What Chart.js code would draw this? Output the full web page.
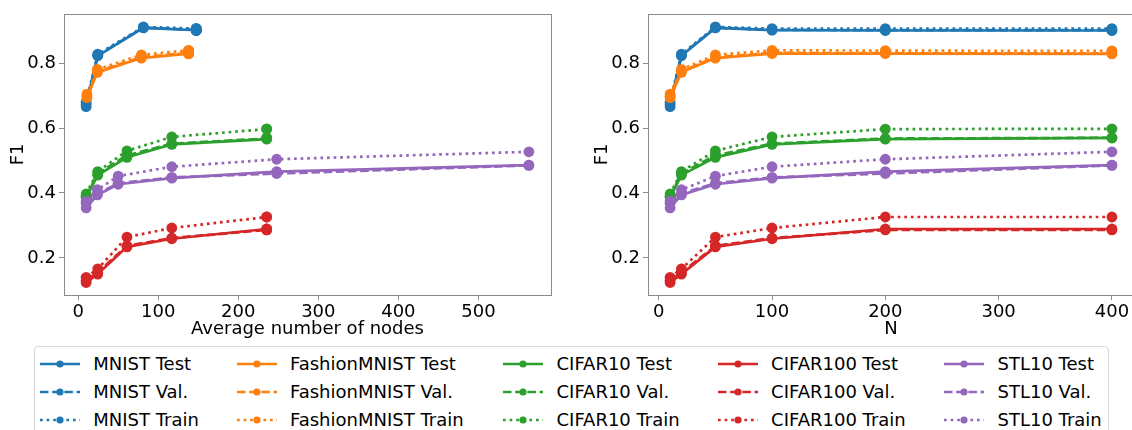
<!DOCTYPE html>
<html>
<head>
<meta charset="utf-8">
<script src="https://cdn.jsdelivr.net/npm/chart.js@4.4.1/dist/chart.umd.min.js"></script>
<style>
  html, body { margin:0; padding:0; background:#fff; }
  body { width:1132px; height:430px; overflow:hidden; position:relative; font-family:"DejaVu Sans", sans-serif; }
  .wrap { position:absolute; top:0; }
  #legend { position:absolute; left:34px; top:346px; width:1075px; height:110px; border:1px solid #d6d6d6; border-radius:4px; box-sizing:border-box; }
  .item { position:absolute; height:20px; display:flex; align-items:center; font-size:18px; color:#000; white-space:nowrap; }
  .item svg { margin-right:13.5px; }
</style>
</head>
<body>
<div class="wrap" style="left:0px;width:566px;height:345px"><canvas id="cL" width="566" height="345"></canvas></div>
<div class="wrap" style="left:566px;width:580px;height:345px"><canvas id="cR" width="580" height="345"></canvas></div>
<div id="legend"></div>
<script>
// ---- data ----
const datasetNames = ["MNIST", "FashionMNIST", "CIFAR10", "CIFAR100", "STL10"];
const splitNames = ["Test", "Val.", "Train"];
const colors = ["#1f77b4", "#ff7f0e", "#2ca02c", "#d62728", "#9467bd"];

const N = [10, 20, 50, 100, 200, 400];

const nodesMNIST    = [10, 24.5, 81.5, 147.5, 147.5, 147.5];
const nodesFashion  = [11, 24, 79, 138, 138, 138];
const nodesCIFAR10  = [10, 24.5, 61, 117, 235.5, 235.5];
const nodesCIFAR100 = [10, 24.5, 61, 117, 235.5, 235.5];
const nodesSTL10    = [10, 24, 50, 117, 248, 563];

const mnistTest     = [0.666, 0.823, 0.909, 0.902, 0.901, 0.901];
const mnistVal      = [0.673, 0.825, 0.910, 0.903, 0.902, 0.902];
const mnistTrain    = [0.680, 0.828, 0.912, 0.907, 0.907, 0.907];
const fashionTest   = [0.694, 0.772, 0.816, 0.830, 0.830, 0.829];
const fashionVal    = [0.699, 0.775, 0.819, 0.832, 0.831, 0.830];
const fashionTrain  = [0.705, 0.781, 0.826, 0.840, 0.839, 0.838];
const cifar10Test   = [0.386, 0.455, 0.510, 0.550, 0.566, 0.570];
const cifar10Val    = [0.390, 0.460, 0.516, 0.552, 0.568, 0.570];
const cifar10Train  = [0.397, 0.466, 0.530, 0.573, 0.597, 0.598];
const cifar100Test  = [0.124, 0.150, 0.234, 0.259, 0.289, 0.289];
const cifar100Val   = [0.130, 0.155, 0.237, 0.261, 0.286, 0.286];
const cifar100Train = [0.140, 0.166, 0.264, 0.292, 0.326, 0.326];
const stl10Test     = [0.354, 0.394, 0.427, 0.446, 0.466, 0.486];
const stl10Val      = [0.368, 0.398, 0.430, 0.448, 0.460, 0.485];
const stl10Train    = [0.375, 0.410, 0.452, 0.481, 0.504, 0.527];

const xTicksLeft  = [0, 100, 200, 300, 400, 500];
const xTicksRight = [0, 100, 200, 300, 400];
const yTicks      = [0.2, 0.4, 0.6, 0.8];
const xTitleLeft  = "Average number of nodes";
const xTitleRight = "N";
const yTitle      = "F1";

// ---- build ----
const nodesList = [nodesMNIST, nodesFashion, nodesCIFAR10, nodesCIFAR100, nodesSTL10];
const valuesList = [
  [mnistTest, mnistVal, mnistTrain],
  [fashionTest, fashionVal, fashionTrain],
  [cifar10Test, cifar10Val, cifar10Train],
  [cifar100Test, cifar100Val, cifar100Train],
  [stl10Test, stl10Val, stl10Train]
];
const LW = 2.7;
const dashes = [[], [8.5, 3.7], [2.7, 3.9]];

function buildDatasets(useNodes) {
  const out = [];
  let k = 0;
  datasetNames.forEach((name, i) => {
    const xs = useNodes ? nodesList[i] : N;
    splitNames.forEach((sp, j) => {
      out.push({
        label: name + " " + sp,
        data: valuesList[i][j].map((v, m) => ({x: xs[m], y: v})),
        borderColor: colors[i],
        backgroundColor: colors[i],
        borderWidth: LW,
        borderDash: dashes[j],
        borderCapStyle: 'butt',
        pointRadius: 5.4,
        pointBorderWidth: 0,
        pointBackgroundColor: colors[i],
        tension: 0,
        fill: false,
        order: 100 - k
      });
      k++;
    });
  });
  return out;
}

const frame = {
  id: 'frame',
  afterDatasetsDraw(chart) {
    const {ctx, chartArea: a} = chart;
    ctx.save();
    ctx.strokeStyle = '#8a8a8a';
    ctx.lineWidth = 1;
    ctx.strokeRect(Math.round(a.left) + 0.5, Math.round(a.top) + 0.5, Math.round(a.right - a.left), Math.round(a.bottom - a.top));
    ctx.restore();
  }
};

function makeChart(id, useNodes, xmin, xmax, xticks, xtitle, pad) {
  const canvas = document.getElementById(id);
  const H = 345;
  return new Chart(canvas, {
    type: 'line',
    data: { datasets: buildDatasets(useNodes) },
    plugins: [frame],
    options: {
      responsive: false,
      animation: false,
      devicePixelRatio: 1,
      layout: { padding: pad },
      plugins: { legend: { display: false }, tooltip: { enabled: false } },
      scales: {
        x: {
          type: 'linear', min: xmin, max: xmax,
          afterBuildTicks: s => { s.ticks = xticks.map(v => ({value: v})); },
          afterFit: s => { s.height = H - 295; },
          border: { display: false },
          grid: { display: true, drawOnChartArea: false, drawTicks: true, tickLength: 5, color: '#8a8a8a', tickWidth: 1 },
          ticks: { font: { family: 'DejaVu Sans', size: 18 }, color: '#000', padding: 2, maxRotation: 0, callback: v => String(v) },
          title: { display: true, text: xtitle, font: { family: 'DejaVu Sans', size: 18 }, color: '#000', padding: { top: 0, bottom: 5 } }
        },
        y: {
          type: 'linear', min: 0.0855, max: 0.9525,
          afterBuildTicks: s => { s.ticks = yTicks.map(v => ({value: v})); },
          afterFit: s => { s.width = 64; },
          border: { display: false },
          grid: { display: true, drawOnChartArea: false, drawTicks: true, tickLength: 5, color: '#8a8a8a', tickWidth: 1 },
          ticks: { font: { family: 'DejaVu Sans', size: 18 }, color: '#000', padding: 3, callback: v => v.toFixed(1) },
          title: { display: true, text: yTitle, font: { family: 'DejaVu Sans', size: 18 }, color: '#000', padding: { top: 8, bottom: 0 } }
        }
      }
    }
  });
}

makeChart('cL', true, -17.65, 590.65, xTicksLeft, xTitleLeft, {left: 0, right: 15, top: 9, bottom: 0});
makeChart('cR', false, -9.5, 419.5, xTicksRight, xTitleRight, {left: 18, right: 12, top: 9, bottom: 0});

// ---- legend (matplotlib style, column-major) ----
const legend = document.getElementById('legend');
const colX = [39.7, 236.5, 503, 717.6, 944];
const rowY = [363.5, 391.5, 419.5];
datasetNames.forEach((name, i) => {
  splitNames.forEach((sp, j) => {
    const d = document.createElement('div');
    d.className = 'item';
    d.style.left = (colX[i] - 35) + 'px';
    d.style.top = (rowY[j] - 347 - 10) + 'px';
    const dash = dashes[j].length ? `stroke-dasharray="${dashes[j].join(',')}"` : '';
    d.innerHTML = `<svg width="40" height="12" viewBox="0 0 40 12"><line x1="0" y1="6" x2="40" y2="6" stroke="${colors[i]}" stroke-width="2.4" ${dash}/><circle cx="20" cy="6" r="3.6" fill="${colors[i]}"/></svg><span>${name} ${sp}</span>`;
    legend.appendChild(d);
  });
});
</script>
</body>
</html>
